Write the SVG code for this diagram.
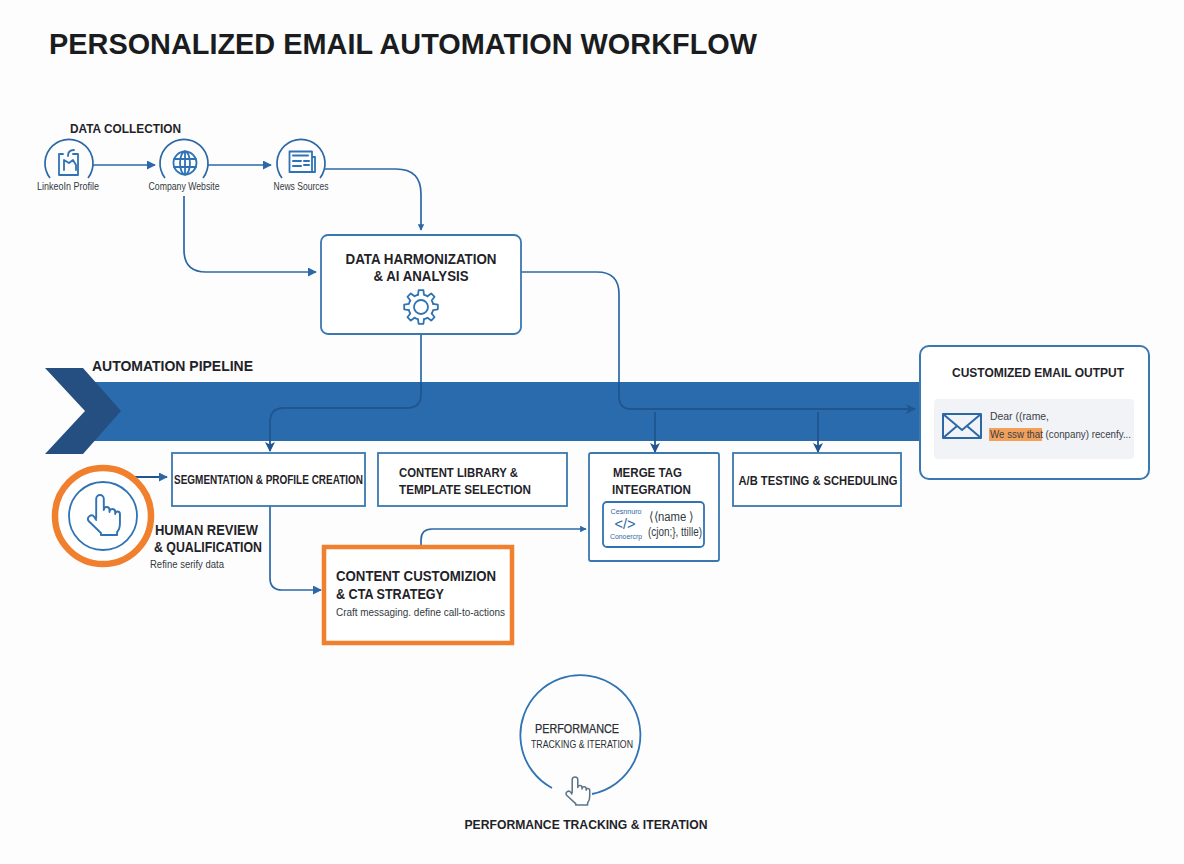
<svg xmlns="http://www.w3.org/2000/svg" xmlns:xlink="http://www.w3.org/1999/xlink" width="1184" height="864" viewBox="0 0 1184 864">
<style>
text{font-family:"Liberation Sans",Arial,sans-serif;fill:#1f2329}
.b{font-weight:700}
.h{font-size:14.5px;font-weight:700}
.s{font-size:10.5px;fill:#333a42}
.box{fill:#fff;stroke:#3b78b0;stroke-width:1.8}
.c{fill:none;stroke:#2c68a6;stroke-width:1.7}
.d{fill:none;stroke:#20558f;stroke-width:1.8}
.i{fill:none;stroke:#2f73b4;stroke-width:1.8;stroke-linecap:round;stroke-linejoin:round}
.m{text-anchor:middle}
</style>
<defs>
<marker id="a" viewBox="0 0 10 10" refX="9" refY="5" markerWidth="6.5" markerHeight="6.5" orient="auto" markerUnits="userSpaceOnUse"><path d="M0 0L10 5L0 10Z" fill="#2c68a6"/></marker>
<marker id="a2" viewBox="0 0 10 10" refX="9" refY="5" markerWidth="9" markerHeight="9" orient="auto" markerUnits="userSpaceOnUse"><path d="M0 0L10 5L0 10Z" fill="#2c68a6"/></marker>
<marker id="a3" viewBox="0 0 10 10" refX="9" refY="5" markerWidth="10" markerHeight="10" orient="auto" markerUnits="userSpaceOnUse"><path d="M0 0L10 5L0 10L2.500 5Z" fill="#20558f"/></marker>
<path id="hand" d="M-4 23V4a4 4 0 0 1 8 0V15q0-3 3-3t3 3v2q0-3 3-3t3 3v2q0-2.500 2.500-2.500t2.500 2.500V28q0 6-3 9v3H1v-2L-12 26q-2-3 1-5q3-2 5 1L-4 25"/>
<path id="tooth" d="M12.130-3.020L16.830-2.370L16.830 2.370L12.130 3.020A12.500 12.500 0 0 1 10.710 6.440"/>
</defs>
<rect width="1184" height="864" fill="#fdfdfd"/>
<text id="title" x="49" y="54" class="b" font-size="29.500" textLength="708" lengthAdjust="spacingAndGlyphs" style="fill:#1a1c20">PERSONALIZED EMAIL AUTOMATION WORKFLOW</text>

<g id="pipeline">
<rect x="90" y="382" width="835" height="59" fill="#2a6bae"/>
<path d="M45 368H83L121 411L83 454H45L85 411Z" fill="#244f80"/>
<text x="92" y="371" class="h" textLength="161" lengthAdjust="spacingAndGlyphs">AUTOMATION PIPELINE</text>
</g>

<g id="connectors">
<path class="c" marker-end="url(#a2)" d="M93 165H155"/>
<path class="c" marker-end="url(#a2)" d="M208 165H271"/>
<path class="c" marker-end="url(#a)" d="M325 169H396Q421 169 421 194V230"/>
<path class="c" marker-end="url(#a2)" d="M184 196V250Q184 272 206 272H316"/>
<path class="c" d="M421 334V382"/>
<path class="d" d="M421 382V395Q421 408 406 408H284Q270 408 270 422V451" marker-end="url(#a3)"/>
<path class="c" d="M521 272H597Q619 272 619 294V382"/>
<path class="d" marker-end="url(#a3)" d="M619 382V396Q619 409 631 409H915"/>
<path class="d" marker-end="url(#a3)" d="M655 412V452"/>
<path class="d" marker-end="url(#a3)" d="M818 412V452"/>
<path class="d" marker-end="url(#a2)" d="M134 477H167"/>
<path class="c" marker-end="url(#a2)" d="M270 506V578Q270 590 282 590H321"/>
<path class="c" marker-end="url(#a)" d="M421 545V540Q421 529 432 529H586"/>
</g>

<g id="data-collection">
<text x="70" y="133" class="b" font-size="12.500" textLength="111" lengthAdjust="spacingAndGlyphs">DATA COLLECTION</text>
</g>
<g id="linkedin">
<path class="c" d="M50 178A24 24 0 1 1 88 178"/>
<path class="i" d="M60 154H63M73 154H78V175H59V154M64 170V160L69 163L73 160L76 165V170M68 156Q68 150 74 150"/>
<text x="68" y="190" class="s m" textLength="62" lengthAdjust="spacingAndGlyphs">LinkeoIn Profile</text>
</g>
<g id="company-website">
<path class="c" d="M165 178A24 24 0 1 1 203 178"/>
<g class="i"><circle cx="185" cy="163" r="11.500"/><ellipse cx="185" cy="163" rx="5" ry="11.500"/><path d="M174 159H196M174 167H196M185 151.500V174.500"/></g>
<text x="184" y="190" class="s m" textLength="71" lengthAdjust="spacingAndGlyphs">Company Website</text>
</g>
<g id="news-sources">
<path class="c" d="M282 178A24 24 0 1 1 320 178"/>
<g class="i"><path d="M289.500 151.500H312V172H289.500ZM312 157H315V172H312"/><path d="M293 155.500H308M293 161H301M304 161H309M293 166H301M304 165H309" stroke-width="2"/></g>
<text x="301" y="190" class="s m" textLength="55" lengthAdjust="spacingAndGlyphs">News Sources</text>
</g>

<g id="data-harmonization">
<rect class="box" x="321" y="235" width="200" height="99" rx="7"/>
<text x="421" y="264" class="h m" textLength="151" lengthAdjust="spacingAndGlyphs">DATA HARMONIZATION</text>
<text x="421" y="281" class="h m" textLength="95" lengthAdjust="spacingAndGlyphs">&amp; AI ANALYSIS</text>
<g transform="translate(421 307)" class="i">
<circle r="7"/>
<use xlink:href="#tooth"/><use xlink:href="#tooth" transform="rotate(45)"/><use xlink:href="#tooth" transform="rotate(90)"/><use xlink:href="#tooth" transform="rotate(135)"/><use xlink:href="#tooth" transform="rotate(180)"/><use xlink:href="#tooth" transform="rotate(225)"/><use xlink:href="#tooth" transform="rotate(270)"/><use xlink:href="#tooth" transform="rotate(315)"/>
</g>
</g>

<g id="customized-email-output">
<rect x="920" y="346" width="229" height="133" rx="9" fill="#fff" stroke="#3b78b0" stroke-width="2"/>
<rect x="934" y="399" width="200" height="60" rx="4" fill="#f1f3f6"/>
<text x="1038" y="377" class="m b" font-size="13.500" textLength="172" lengthAdjust="spacingAndGlyphs">CUSTOMIZED EMAIL OUTPUT</text>
<path d="M943 414H981V438H943ZM943 414L962 430L981 414M943 438L957 426M981 438L967 426" fill="none" stroke="#2c68a6" stroke-width="2" stroke-linejoin="round"/>
<rect x="989" y="428" width="53" height="13" fill="#f3a15a"/>
<text x="990" y="420" font-size="11.500" style="fill:#3a4048" textLength="59" lengthAdjust="spacingAndGlyphs">Dear ((rame,</text>
<text x="990" y="438" font-size="11.500" style="fill:#3a4048" textLength="141" lengthAdjust="spacingAndGlyphs">We ssw that (conpany) recenfy...</text>
</g>

<g id="segmentation">
<rect class="box" x="172" y="453" width="193" height="53"/>
<text x="268.500" y="484" class="m b" font-size="12" textLength="189" lengthAdjust="spacingAndGlyphs">SEGMENTATION &amp; PROFILE CREATION</text>
</g>
<g id="content-library">
<rect class="box" x="378" y="453" width="189" height="53"/>
<text x="399" y="477" class="b" font-size="13" textLength="119" lengthAdjust="spacingAndGlyphs">CONTENT LIBRARY &amp;</text>
<text x="399" y="494" class="b" font-size="13" textLength="132" lengthAdjust="spacingAndGlyphs">TEMPLATE SELECTION</text>
</g>
<g id="merge-tag">
<rect class="box" x="589" y="453" width="130" height="108" rx="2"/>
<text x="613" y="477" class="b" font-size="13.500" textLength="69" lengthAdjust="spacingAndGlyphs">MERGE TAG</text>
<text x="612" y="494" class="b" font-size="13.500" textLength="79" lengthAdjust="spacingAndGlyphs">INTEGRATION</text>
<rect x="603" y="502" width="101" height="45" rx="4" fill="#fff" stroke="#2f73b4" stroke-width="1.800"/>
<text x="626" y="514" class="m" font-size="6.500" textLength="31" lengthAdjust="spacingAndGlyphs" style="fill:#2c68a6">Cesnnuro</text>
<text x="625" y="529" class="m" font-size="14" textLength="21" lengthAdjust="spacingAndGlyphs" style="fill:#2c68a6">&lt;/&gt;</text>
<text x="626" y="539" class="m" font-size="6.500" textLength="32" lengthAdjust="spacingAndGlyphs" style="fill:#2c68a6">Conoercrp</text>
<text x="649" y="521" font-size="12.500" textLength="45" lengthAdjust="spacingAndGlyphs" style="fill:#333a42">⟨⟨name ⟩</text>
<text x="648" y="536" font-size="12" textLength="54" lengthAdjust="spacingAndGlyphs" style="fill:#333a42">(cjon;}, ttille)</text>
</g>
<g id="ab-testing">
<rect class="box" x="733" y="453" width="168" height="53"/>
<text x="818" y="485" class="m b" font-size="12.500" textLength="159" lengthAdjust="spacingAndGlyphs">A/B TESTING &amp; SCHEDULING</text>
</g>

<g id="human-review">
<circle cx="103" cy="516" r="48" fill="#fff" stroke="#f07f2e" stroke-width="6.500"/>
<circle cx="103" cy="516" r="34" fill="none" stroke="#2f73b4" stroke-width="1.800"/>
<use xlink:href="#hand" transform="translate(100 495) scale(.95 1)" class="i" style="stroke-width:2"/>
<text x="155" y="535" class="h" textLength="103" lengthAdjust="spacingAndGlyphs">HUMAN REVIEW</text>
<text x="154" y="552" class="h" textLength="108" lengthAdjust="spacingAndGlyphs">&amp; QUALIFICATION</text>
<text x="150" y="568" class="s" textLength="74" lengthAdjust="spacingAndGlyphs">Refine serify data</text>
</g>

<g id="content-customization">
<rect x="324" y="547" width="188" height="96" fill="#fff" stroke="#f07f2e" stroke-width="4.500"/>
<text x="336" y="581" class="h" textLength="160" lengthAdjust="spacingAndGlyphs">CONTENT CUSTOMIZION</text>
<text x="336" y="599" class="h" textLength="108" lengthAdjust="spacingAndGlyphs">&amp; CTA STRATEGY</text>
<text x="336" y="616" font-size="11" style="fill:#333a42" textLength="169" lengthAdjust="spacingAndGlyphs">Craft messaging. define call-to-actions</text>
</g>

<g id="performance">
<path d="M552 788A60 60 0 1 1 592 794" fill="none" stroke="#2f73b4" stroke-width="1.800"/>
<text x="535" y="733" font-size="12.500" style="fill:#2a2e34;stroke:#2a2e34;stroke-width:.25" textLength="84" lengthAdjust="spacingAndGlyphs">PERFORMANCE</text>
<text x="531" y="748" font-size="10.500" style="fill:#2a2e34" textLength="102" lengthAdjust="spacingAndGlyphs">TRACKING &amp; ITERATION</text>
<use xlink:href="#hand" transform="translate(575 777) scale(.7)" style="fill:#fff;stroke:#5f7486;stroke-width:2.200;stroke-linejoin:round"/>
<text x="586" y="829" class="m b" font-size="13" textLength="243" lengthAdjust="spacingAndGlyphs">PERFORMANCE TRACKING &amp; ITERATION</text>
</g>
</svg>
